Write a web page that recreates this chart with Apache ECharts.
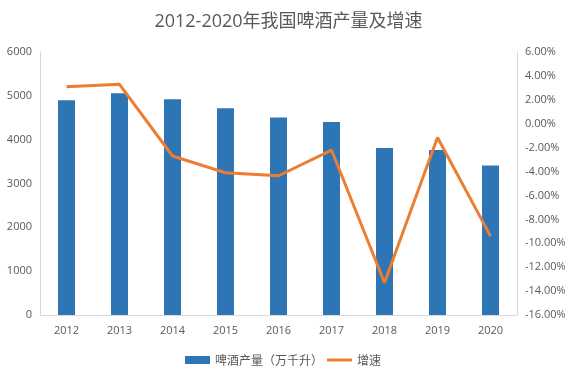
<!DOCTYPE html>
<html><head><meta charset="utf-8">
<script src="https://cdn.jsdelivr.net/npm/echarts@6/dist/echarts.min.js"></script>
<style>html,body{margin:0;padding:0;background:#fff}#c{width:577px;height:379px}</style>
</head><body><div id="c"></div>
<script>
const years = ['2012','2013','2014','2015','2016','2017','2018','2019','2020'];
const production = [4902, 5061, 4922, 4716, 4506, 4402, 3812, 3765, 3411];
const growth = [3.1, 3.3, -2.7, -4.1, -4.35, -2.2, -13.3, -1.15, -9.4];
const chart = echarts.init(document.getElementById('c'));
const lab = {color:'#595959', fontSize:11, fontFamily:'"Open Sans","Noto Sans CJK SC",sans-serif'};
chart.setOption({
  animation:false,
  title:{text:'2012-2020年我国啤酒产量及增速', left:'center', top:8,
    textStyle:{color:'#595959', fontSize:18, fontWeight:'normal', fontFamily:'"Open Sans","Noto Sans CJK SC",sans-serif'}},
  legend:{bottom:8, left:180, itemWidth:25, itemHeight:8, itemGap:4,
    textStyle:{color:'#595959', fontSize:12, fontFamily:'"Noto Sans CJK SC",sans-serif'},
    data:[{name:'啤酒产量（万千升）', icon:'rect'}, {name:'增速', icon:'path://M0,2.5L25,2.5L25,5.5L0,5.5Z'}]},
  grid:{left:40, right:60, top:52, bottom:64},
  xAxis:{type:'category', data:years, axisTick:{show:false},
    axisLine:{lineStyle:{color:'#d9d9d9'}}, axisLabel:Object.assign({margin:10}, lab)},
  yAxis:[
    {type:'value', min:0, max:6000, interval:1000, splitLine:{show:false},
     axisLine:{show:true, lineStyle:{color:'#d9d9d9'}}, axisLabel:Object.assign({margin:8, formatter:v=>String(v)}, lab)},
    {type:'value', min:-16, max:6, interval:2, splitLine:{show:false},
     axisLine:{show:true, lineStyle:{color:'#d9d9d9'}},
     axisLabel:Object.assign({margin:8, formatter:v=>v.toFixed(2)+'%'}, lab)}
  ],
  series:[
    {name:'啤酒产量（万千升）', type:'bar', data:production, barWidth:17, itemStyle:{color:'#2e75b6'}},
    {name:'增速', type:'line', yAxisIndex:1, data:growth, symbol:'none',
     lineStyle:{color:'#ed7d31', width:3}, itemStyle:{color:'#ed7d31'}}
  ]
});
</script></body></html>
